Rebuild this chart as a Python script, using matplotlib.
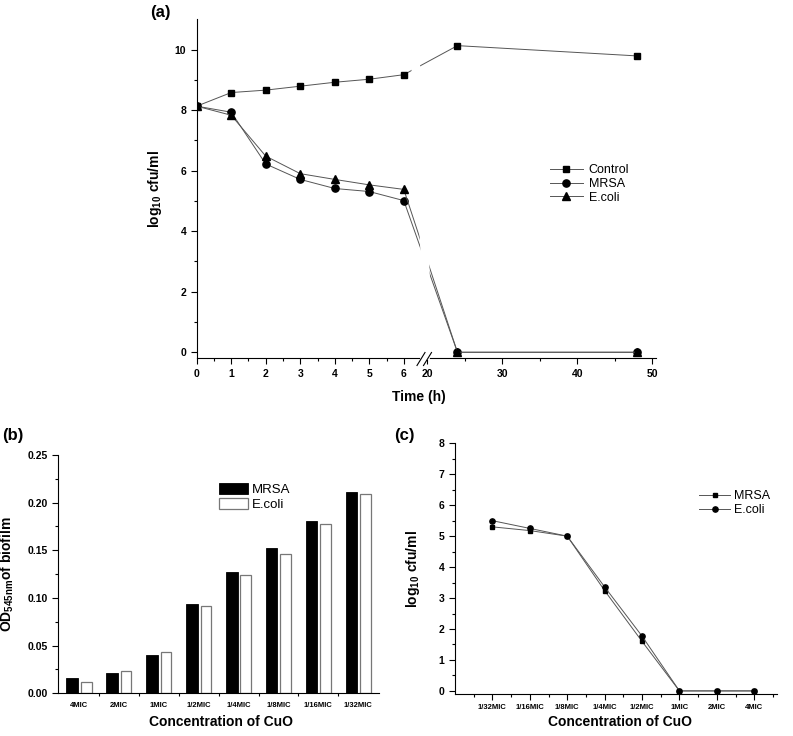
import numpy as np
import matplotlib.pyplot as plt
from matplotlib.patches import Polygon

plt.rcParams['font.family'] = ['Liberation Sans', 'DejaVu Sans']
plt.rcParams['mathtext.fontset'] = 'custom'
plt.rcParams['mathtext.rm'] = 'Liberation Sans:bold'
plt.rcParams['mathtext.bf'] = 'Liberation Sans:bold'
plt.rcParams['mathtext.default'] = 'bf'
plt.rcParams['xtick.direction'] = 'out'
plt.rcParams['ytick.direction'] = 'out'

# (a) time-kill curves
hours = [0, 1, 2, 3, 4, 5, 6, 24, 48]
control = [8.13, 8.58, 8.66, 8.79, 8.92, 9.02, 9.17, 10.13, 9.79]
mrsa_kill = [8.13, 7.93, 6.22, 5.71, 5.41, 5.31, 5.01, 0, 0]
ecoli_kill = [8.13, 7.83, 6.48, 5.90, 5.71, 5.53, 5.38, 0, 0]
time_ticks = [0, 1, 2, 3, 4, 5, 6, 20, 30, 40, 50]
time_minor = [0.5, 1.5, 2.5, 3.5, 4.5, 5.5, 25, 35, 45]

# (b) biofilm OD
conc_b = ['4MIC', '2MIC', '1MIC', '1/2MIC', '1/4MIC', '1/8MIC', '1/16MIC', '1/32MIC']
mrsa_od = [0.0157, 0.0216, 0.0399, 0.0934, 0.127, 0.152, 0.181, 0.211]
ecoli_od = [0.0122, 0.0231, 0.0433, 0.0913, 0.124, 0.146, 0.178, 0.209]

# (c) viable counts vs concentration
conc_c = ['1/32MIC', '1/16MIC', '1/8MIC', '1/4MIC', '1/2MIC', '1MIC', '2MIC', '4MIC']
mrsa_cfu = [5.30, 5.18, 5.00, 3.24, 1.60, 0, 0, 0]
ecoli_cfu = [5.50, 5.25, 5.00, 3.36, 1.77, 0, 0, 0]

LINE = '#555555'

# piecewise scale for the broken time axis (0-6 h wide, 20-50 h compressed)
BRK_LO, BRK_HI = 6.3, 20.0
GAP = 0.386
RIGHT = 7.5 / 34.55


def fwd(x):
    x = np.asarray(x, float)
    return np.where(x <= BRK_LO, x,
                    np.where(x >= BRK_HI, BRK_LO + GAP + (x - BRK_HI) * RIGHT,
                             BRK_LO + (x - BRK_LO) * GAP / (BRK_HI - BRK_LO)))


def inv(y):
    y = np.asarray(y, float)
    hi = BRK_LO + GAP
    return np.where(y <= BRK_LO, y,
                    np.where(y >= hi, BRK_HI + (y - hi) / RIGHT,
                             BRK_LO + (y - BRK_LO) * (BRK_HI - BRK_LO) / GAP))


fig = plt.figure(figsize=(7.93, 7.36), dpi=100)
W, H = 793.0, 736.0


def add_ax(left, right, top, bottom):
    return fig.add_axes([left / W, 1 - bottom / H, (right - left) / W, (bottom - top) / H])


def style(ax):
    ax.spines['top'].set_visible(False)
    ax.spines['right'].set_visible(False)
    ax.tick_params(which='major', length=4, width=0.8)
    ax.tick_params(which='minor', length=2.5, width=0.8)


# ---------- panel (a) ----------
axa = add_ax(196.7, 656.0, 19.3, 358.3)
style(axa)
axa.set_xscale('function', functions=(fwd, inv))
axa.set_xlim(0, 50.5)
axa.set_ylim(-0.2, 11)
axa.plot(hours, control, color=LINE, lw=0.7, marker='s', ms=5, mfc='k', mec='k', label='Control')
axa.plot(hours, mrsa_kill, color=LINE, lw=0.7, marker='o', ms=5.2, mfc='k', mec='k', label='MRSA')
axa.plot(hours, ecoli_kill, color=LINE, lw=0.7, marker='^', ms=5.5, mfc='k', mec='k', label='E.coli')
axa.set_xticks(time_ticks, labels=[str(t) for t in time_ticks])
axa.set_xticks(time_minor, minor=True)
axa.set_xticklabels([], minor=True)
axa.set_yticks([0, 2, 4, 6, 8, 10])
axa.set_yticks([1, 3, 5, 7, 9], minor=True)
for lab in axa.get_xticklabels() + axa.get_yticklabels():
    lab.set_fontsize(7.5)
    lab.set_fontweight('bold')
axa.set_xlabel('Time (h)', fontsize=10, fontweight='bold')
axa.set_ylabel(r'log$_{10}$ cfu/ml', fontsize=10, fontweight='bold')
axa.xaxis.set_label_coords(0.484, -0.093)
axa.yaxis.set_label_coords(-0.072, 0.5)

# white band where the lines cross the axis break
fx = lambda px: (px - 196.7) / (656.0 - 196.7)
fy = lambda py: (358.3 - py) / (358.3 - 19.3)
band = Polygon([(fx(409), fy(19)), (fx(418), fy(19)), (fx(433), fy(345)), (fx(425), fy(345))],
               closed=True, transform=axa.transAxes, facecolor='white', edgecolor='none', zorder=2.6)
axa.add_patch(band)
axa.plot([fx(421), fx(427.5)], [0, 0], color='white', lw=2, transform=axa.transAxes,
         clip_on=False, zorder=3)
for cx in (421, 427.5):
    axa.plot([fx(cx - 4), fx(cx + 4)], [fy(365.5), fy(352.5)], color='k', lw=0.8,
             transform=axa.transAxes, clip_on=False, zorder=4)

axa.legend(loc='upper left', bbox_to_anchor=(550 / W, 1 - 164 / H), bbox_transform=fig.transFigure,
           frameon=False, fontsize=9, handlelength=2.6, handletextpad=0.5, labelspacing=0.15,
           borderpad=0, borderaxespad=0)

# ---------- panel (b) ----------
axb = add_ax(58.3, 379.0, 455.0, 693.3)
style(axb)
xb = np.arange(len(conc_b))
axb.bar(xb - 0.17, mrsa_od, 0.29, color='black', edgecolor='black', lw=0.6, label='MRSA')
axb.bar(xb + 0.18, ecoli_od, 0.27, color='white', edgecolor='#777777', lw=0.9, label='E.coli')
axb.set_xlim(-0.52, 7.52)
axb.set_ylim(0, 0.25)
axb.set_xticks(xb, labels=conc_b)
axb.set_xticks(xb[:-1] + 0.5, minor=True)
axb.tick_params(axis='x', which='major', length=0, pad=6)
axb.set_yticks([0, 0.05, 0.10, 0.15, 0.20, 0.25], labels=['0.00', '0.05', '0.10', '0.15', '0.20', '0.25'])
axb.set_yticks([0.025, 0.075, 0.125, 0.175, 0.225], minor=True)
for lab in axb.get_xticklabels():
    lab.set_fontsize(5.5)
    lab.set_fontweight('bold')
for lab in axb.get_yticklabels():
    lab.set_fontsize(7.5)
    lab.set_fontweight('bold')
axb.set_xlabel('Concentration of CuO', fontsize=10, fontweight='bold')
axb.set_ylabel(r'OD$_{545nm}$of biofilm', fontsize=10, fontweight='bold')
axb.xaxis.set_label_coords(0.507, -0.09)
axb.yaxis.set_label_coords(-0.132, 0.5)
axb.legend(loc='upper left', bbox_to_anchor=(219 / W, 1 - 483 / H), bbox_transform=fig.transFigure,
           frameon=False, fontsize=9.5, handlelength=2.2, handleheight=0.85, handletextpad=0.3,
           labelspacing=0.2, borderpad=0, borderaxespad=0)

# ---------- panel (c) ----------
axc = add_ax(455.0, 776.7, 443.3, 694.0)
style(axc)
xc = np.arange(1, len(conc_c) + 1)
axc.plot(xc, mrsa_cfu, color=LINE, lw=0.7, marker='s', ms=3.4, mfc='k', mec='k', label='MRSA')
axc.plot(xc, ecoli_cfu, color=LINE, lw=0.7, marker='o', ms=3.8, mfc='k', mec='k', label='E.coli')
axc.set_xlim(0, 8.6)
axc.set_ylim(-0.1, 8)
axc.set_xticks(xc, labels=conc_c)
axc.set_xticks(np.arange(0.5, 9, 1.0), minor=True)
axc.set_yticks(range(0, 9))
axc.set_yticks(np.arange(0.5, 8, 1.0), minor=True)
for lab in axc.get_xticklabels():
    lab.set_fontsize(5.5)
    lab.set_fontweight('bold')
for lab in axc.get_yticklabels():
    lab.set_fontsize(7.5)
    lab.set_fontweight('bold')
axc.set_xlabel('Concentration of CuO', fontsize=10, fontweight='bold')
axc.set_ylabel(r'log$_{10}$ cfu/ml', fontsize=10, fontweight='bold')
axc.xaxis.set_label_coords(0.513, -0.085)
axc.yaxis.set_label_coords(-0.103, 0.5)
axc.legend(loc='upper left', bbox_to_anchor=(699 / W, 1 - 490 / H), bbox_transform=fig.transFigure,
           frameon=False, fontsize=9, handlelength=2.5, handletextpad=0.3, labelspacing=0.15,
           borderpad=0, borderaxespad=0)

# panel letters
fig.text(160 / W, 1 - 12 / H, '(a)', fontsize=12, fontweight='bold', ha='center', va='center')
fig.text(13 / W, 1 - 435 / H, '(b)', fontsize=12, fontweight='bold', ha='center', va='center')
fig.text(404 / W, 1 - 435 / H, '(c)', fontsize=12, fontweight='bold', ha='center', va='center')

fig.savefig('out.png', dpi=100)
